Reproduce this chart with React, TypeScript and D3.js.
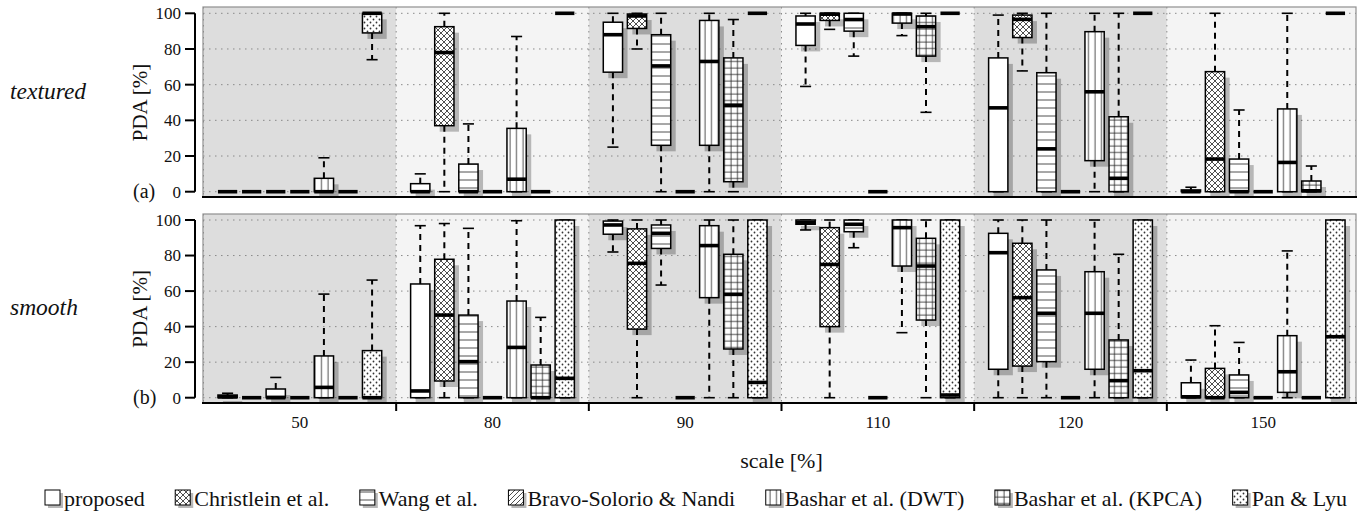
import React from "react";
import * as d3 from "d3";

// ---------- data ----------
const scaleLabels = ["50", "80", "90", "110", "120", "150"];
const methods = [
  "proposed",
  "Christlein et al.",
  "Wang et al.",
  "Bravo-Solorio & Nandi",
  "Bashar et al. (DWT)",
  "Bashar et al. (KPCA)",
  "Pan & Lyu",
];
const yTicks = [0, 20, 40, 60, 80, 100];

// each entry: [lower whisker, Q1, median, Q3, upper whisker], per scale, per method
const texturedStats = [
  [[0, 0, 0, 0, 0], [0, 0, 0, 0, 0], [0, 0, 0, 0, 0], [0, 0, 0, 0, 0], [0, 0, 0, 7.5, 19], [0, 0, 0, 0, 0], [74, 89, 100, 100, 100]],
  [[0, 0, 0, 4.5, 10], [0, 37, 78, 92.5, 100], [0, 0, 0, 15.5, 38], [0, 0, 0, 0, 0], [0, 0, 7, 35.5, 87], [0, 0, 0, 0, 0], [100, 100, 100, 100, 100]],
  [[25, 67, 88, 95, 100], [80, 91.5, 98.5, 99.6, 100], [0, 26, 70.5, 88, 100], [0, 0, 0, 0, 0], [0, 26, 73, 96, 100], [0, 5.6, 48.5, 75, 96.5], [100, 100, 100, 100, 100]],
  [[59, 82, 94, 98.5, 100], [91, 96, 99.5, 100, 100], [76, 90, 96.5, 100, 100], [0, 0, 0, 0, 0], [87.5, 94.5, 99.6, 100, 100], [44.5, 76, 92.5, 98.5, 100], [100, 100, 100, 100, 100]],
  [[0, 0, 47, 75, 99], [67.7, 86.4, 96.6, 99, 100], [0, 0, 24, 66.7, 100], [0, 0, 0, 0, 0], [0, 17.4, 56, 89.7, 100], [0, 0, 7.5, 42, 100], [100, 100, 100, 100, 100]],
  [[0, 0, 0, 1, 2.5], [0, 0, 18.3, 67.3, 100], [0, 0, 0, 18.3, 45.8], [0, 0, 0, 0, 0], [0, 0, 16.4, 46.4, 100], [0, 0, 0.5, 6, 14.4], [100, 100, 100, 100, 100]],
];

const smoothStats = [
  [[0, 0, 0.5, 1.5, 2.5], [0, 0, 0, 0, 0], [0, 0, 0, 4.9, 11.4], [0, 0, 0, 0, 0], [0, 0, 5.8, 23.5, 58.3], [0, 0, 0, 0, 0], [0, 0, 0, 26.5, 66.2]],
  [[0, 0, 3.8, 64, 96.8], [0, 9.4, 46.5, 77.9, 98], [0, 0, 20.3, 46.5, 95.3], [0, 0, 0, 0, 0], [0, 0, 28.3, 54.4, 99.6], [0, 0, 0, 18.4, 45.2], [0, 0, 10.9, 100, 100]],
  [[82, 92, 97.2, 99.4, 100], [0, 38.6, 75.6, 95, 100], [63.4, 84, 92.5, 97.2, 100], [0, 0, 0, 0, 0], [0, 56.3, 85.6, 96.8, 100], [0, 27.4, 58.2, 80.7, 100], [0, 0, 8.6, 100, 100]],
  [[94.4, 97.6, 98.7, 100, 100], [0, 40, 75, 95.7, 100], [84.4, 93.4, 97.6, 100, 100], [0, 0, 0, 0, 0], [36.6, 74.1, 95.7, 100, 100], [0, 43.7, 74.1, 89.7, 100], [0, 0, 1.5, 100, 100]],
  [[0, 16, 81.6, 92.5, 100], [0, 17.8, 56.3, 86.9, 100], [0, 20.3, 47.5, 71.9, 100], [0, 0, 0, 0, 0], [0, 16, 47.5, 70.9, 100], [0, 0, 9.6, 32.5, 80.7], [0, 0, 15.2, 100, 100]],
  [[0, 0, 0.5, 8.4, 21.2], [0, 0, 0, 16.5, 40.5], [0, 0, 3, 12.8, 31.1], [0, 0, 0, 0, 0], [0, 3, 14.6, 34.9, 82.6], [0, 0, 0, 0, 0], [0, 0, 34.3, 100, 100]],
];

// ---------- layout ----------
const W = 1361;
const H = 520;
const FONT = "Liberation Serif, Times New Roman, Times, DejaVu Serif";
const frameL = 203;
const frameR = 1356;
const x = d3.scaleLinear().domain([0, 48]).range([203.5, 1359.5]);
const unit = x(1) - x(0);
const boxHalf = 0.4 * unit;
const capHalf = 0.23 * unit;
const fills = ["#ffffff", "url(#p-cross)", "url(#p-hor)", "url(#p-diag)", "url(#p-vert)", "url(#p-grid)", "url(#p-dots)"];

const panels = [
  { key: "a", name: "textured", tag: "(a)", stats: texturedStats, y: d3.scaleLinear().domain([0, 100]).range([191.7, 13.3]), top: 7, bottom: 197, nameY: 99 },
  { key: "b", name: "smooth", tag: "(b)", stats: smoothStats, y: d3.scaleLinear().domain([0, 100]).range([397.7, 220]), top: 214, bottom: 403, nameY: 315 },
];

function measure(text: string, font: string): number {
  try {
    const ctx = document.createElement("canvas").getContext("2d");
    if (ctx) {
      ctx.font = font;
      return ctx.measureText(text).width;
    }
  } catch (e) {}
  return text.length * 9;
}

function Patterns() {
  return (
    <defs>
      <pattern id="p-cross" patternUnits="userSpaceOnUse" width="6" height="6">
        <rect width="6" height="6" fill="#fff" />
        <path d="M0,0 L6,6 M6,0 L0,6 M-1,5 L1,7 M5,-1 L7,1 M-1,1 L1,-1 M5,7 L7,5" stroke="#222" strokeWidth="0.8" />
      </pattern>
      <pattern id="p-hor" patternUnits="userSpaceOnUse" width="8" height="8">
        <rect width="8" height="8" fill="#fff" />
        <line x1="0" y1="4" x2="8" y2="4" stroke="#222" strokeWidth="0.8" />
      </pattern>
      <pattern id="p-diag" patternUnits="userSpaceOnUse" width="5" height="5">
        <rect width="5" height="5" fill="#fff" />
        <path d="M0,5 L5,0 M-1,1 L1,-1 M4,6 L6,4" stroke="#222" strokeWidth="0.8" />
      </pattern>
      <pattern id="p-vert" patternUnits="userSpaceOnUse" width="6.5" height="6.5">
        <rect width="6.5" height="6.5" fill="#fff" />
        <line x1="3" y1="0" x2="3" y2="6.5" stroke="#222" strokeWidth="0.8" />
      </pattern>
      <pattern id="p-grid" patternUnits="userSpaceOnUse" width="6.5" height="6.5">
        <rect width="6.5" height="6.5" fill="#fff" />
        <line x1="3" y1="0" x2="3" y2="6.5" stroke="#222" strokeWidth="0.8" />
        <line x1="0" y1="3" x2="6.5" y2="3" stroke="#222" strokeWidth="0.8" />
      </pattern>
      <pattern id="p-dots" patternUnits="userSpaceOnUse" width="6" height="6">
        <rect width="6" height="6" fill="#fff" />
        <circle cx="1.5" cy="1.5" r="0.9" fill="#333" />
        <circle cx="4.5" cy="4.5" r="0.9" fill="#333" />
      </pattern>
      {panels.map((p) => (
        <clipPath id={`clip-${p.key}`} key={p.key}>
          <rect x={frameL} y={p.top} width={frameR - frameL} height={p.bottom - p.top} />
        </clipPath>
      ))}
    </defs>
  );
}

function Panel({ p }: { p: (typeof panels)[number] }) {
  const y = p.y;
  const boxes: any[] = [];
  p.stats.forEach((group, g) =>
    group.forEach((s, m) => boxes.push({ g, m, s, cx: x(g * 8 + m + 1) }))
  );
  return (
    <g>
      <g clipPath={`url(#clip-${p.key})`}>
        {scaleLabels.map((_, g) => (
          <rect key={g} x={x(g * 8)} y={p.top} width={x(g * 8 + 8) - x(g * 8)} height={p.bottom - p.top} fill={g % 2 === 0 ? "#dddddd" : "#f4f4f4"} />
        ))}
        {yTicks.map((t) => (
          <line key={t} x1={frameL} x2={frameR} y1={y(t)} y2={y(t)} stroke="#8a8a8a" strokeWidth={1} strokeDasharray="1.5,4.5" />
        ))}
        {d3.range(0, 7).map((k) => (
          <line key={k} x1={x(k * 8)} x2={x(k * 8)} y1={p.top} y2={p.bottom} stroke="#8a8a8a" strokeWidth={1} strokeDasharray="1.5,4.5" />
        ))}
        {boxes.map((b, i) =>
          b.s[3] > b.s[1] ? (
            <rect key={"sh" + i} x={b.cx - boxHalf + 5} y={y(b.s[3]) + 6} width={boxHalf * 2} height={y(b.s[1]) - y(b.s[3])} fill="rgba(0,0,0,0.25)" />
          ) : null
        )}
        {boxes.map((b, i) => {
          const [lo, q1, med, q3, hi] = b.s;
          return (
            <g key={"bx" + i}>
              {hi > q3 && <line x1={b.cx} x2={b.cx} y1={y(q3)} y2={y(hi)} stroke="#000" strokeWidth={2} strokeDasharray="6,5" />}
              {lo < q1 && <line x1={b.cx} x2={b.cx} y1={y(q1)} y2={y(lo)} stroke="#000" strokeWidth={2} strokeDasharray="6,5" />}
              <line x1={b.cx - capHalf} x2={b.cx + capHalf} y1={y(hi)} y2={y(hi)} stroke="#000" strokeWidth={1.6} />
              <line x1={b.cx - capHalf} x2={b.cx + capHalf} y1={y(lo)} y2={y(lo)} stroke="#000" strokeWidth={1.6} />
              {q3 > q1 && (
                <rect x={b.cx - boxHalf} y={y(q3)} width={boxHalf * 2} height={y(q1) - y(q3)} fill={fills[b.m]} stroke="#000" strokeWidth={1.5} />
              )}
              <line x1={b.cx - boxHalf} x2={b.cx + boxHalf} y1={y(med)} y2={y(med)} stroke="#000" strokeWidth={3.6} />
            </g>
          );
        })}
      </g>
      <rect x={frameL} y={p.top} width={frameR - frameL} height={p.bottom - p.top} fill="none" stroke="#8f8f8f" strokeWidth={1.2} />
      <line x1={frameL - 1} x2={frameR + 1} y1={p.bottom} y2={p.bottom} stroke="#000" strokeWidth={2.2} />
      {/* y axis */}
      <line x1={195} x2={195} y1={y(0)} y2={y(100)} stroke="#000" strokeWidth={2} />
      {yTicks.map((t) => (
        <g key={t}>
          <line x1={185} x2={195} y1={y(t)} y2={y(t)} stroke="#000" strokeWidth={2} />
          <text x={181} y={y(t)} dy="0.35em" textAnchor="end" fontSize={17} fontFamily={FONT} fill="#111">
            {t}
          </text>
        </g>
      ))}
      <text transform={`translate(140,${(y(0) + y(100)) / 2}) rotate(-90)`} textAnchor="middle" dy="0.35em" fontSize={21} fontFamily={FONT} fill="#111">
        PDA [%]
      </text>
      <text x={133} y={y(0)} dy="0.33em" fontSize={20} fontFamily={FONT} fill="#111">
        {p.tag}
      </text>
      <text x={10} y={p.nameY} fontSize={23.5} fontStyle="italic" fontFamily={FONT} fill="#111">
        {p.name}
      </text>
    </g>
  );
}

function Legend() {
  const fs = 22;
  const font = `${fs}px "Liberation Serif", "DejaVu Serif"`;
  const icon = 15;
  const iconGap = 4;
  const startX = 45;
  const endX = 1347;
  const widths = methods.map((m) => measure(m, font));
  const total = widths.reduce((a, w) => a + icon + iconGap + w, 0);
  const gap = (endX - startX - total) / (methods.length - 1);
  let cur = startX;
  const items = methods.map((m, i) => {
    const it = { m, i, x: cur };
    cur += icon + iconGap + widths[i] + gap;
    return it;
  });
  const baseY = 506;
  return (
    <g>
      {items.map((it) => (
        <g key={it.m}>
          <rect x={it.x + 3} y={baseY - icon + 2} width={icon} height={icon} fill="rgba(0,0,0,0.28)" />
          <rect x={it.x} y={baseY - icon - 1} width={icon} height={icon} fill={fills[it.i]} stroke="#000" strokeWidth={1} />
          <text x={it.x + icon + iconGap} y={baseY} fontSize={fs} fontFamily={FONT} fill="#111">
            {it.m}
          </text>
        </g>
      ))}
    </g>
  );
}

export default function App() {
  const pb = panels[1];
  return (
    <svg width={W} height={H} style={{ position: "absolute", left: 0, top: 0, background: "#fff" }}>
      <Patterns />
      <rect width={W} height={H} fill="#fff" />
      {panels.map((p) => (
        <Panel key={p.key} p={p} />
      ))}
      {/* x axis of bottom panel */}
      {d3.range(1, 6).map((k) => (
        <line key={k} x1={x(k * 8)} x2={x(k * 8)} y1={pb.bottom} y2={pb.bottom + 8} stroke="#000" strokeWidth={2} />
      ))}
      {scaleLabels.map((s, g) => (
        <text key={s} x={x(g * 8 + 4)} y={428} textAnchor="middle" fontSize={17} fontFamily={FONT} fill="#111">
          {s}
        </text>
      ))}
      <text x={(x(0) + x(48)) / 2} y={468} textAnchor="middle" fontSize={22} fontFamily={FONT} fill="#111">
        scale [%]
      </text>
      <Legend />
    </svg>
  );
}
